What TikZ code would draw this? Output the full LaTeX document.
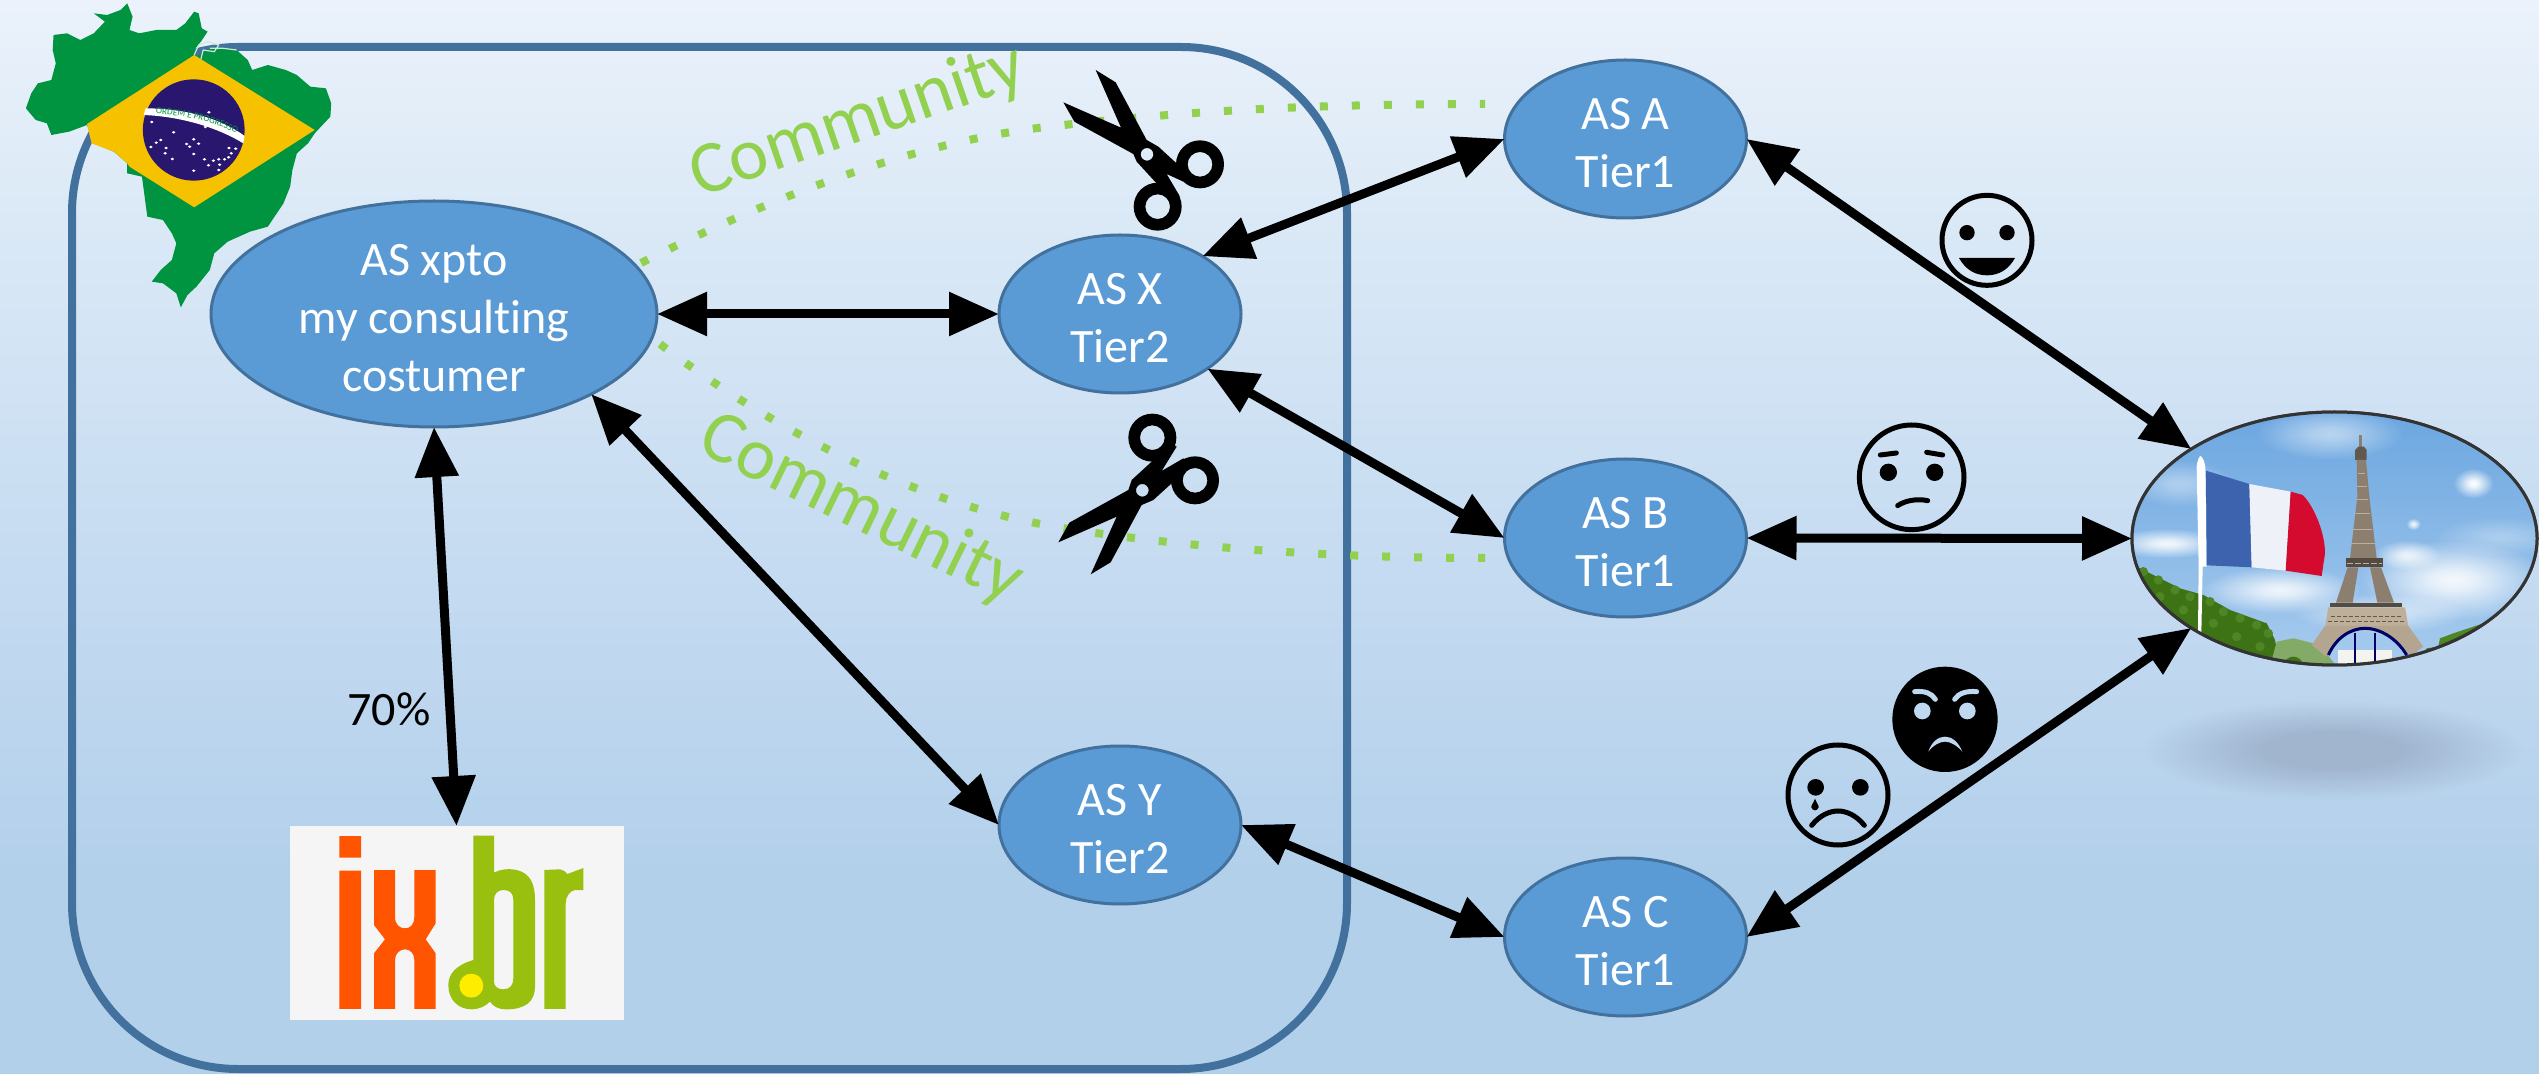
\documentclass[tikz,border=0pt]{standalone}
\usepackage{fontspec}
\setmainfont{Carlito}[Ligatures=NoCommon]
\usetikzlibrary{arrows.meta,shapes.geometric,fadings,decorations.text}
\definecolor{bg0}{HTML}{EBF2FB}
\definecolor{bg1}{HTML}{DEEBF7}
\definecolor{bg2}{HTML}{C5DBF1}
\definecolor{bg3}{HTML}{B3D0EB}
\definecolor{bgface}{HTML}{BFD7EF}
\definecolor{shadowc}{HTML}{A1B5CF}
\definecolor{nodefill}{HTML}{5B9BD5}
\definecolor{nodeline}{HTML}{41719C}
\definecolor{commgreen}{HTML}{92D050}
\definecolor{brgreen}{HTML}{009440}
\definecolor{bryellow}{HTML}{F6C200}
\definecolor{brblue}{HTML}{28166F}
\definecolor{ixorange}{HTML}{FF5500}
\definecolor{ixgreen}{HTML}{99BF0F}
\definecolor{ixyellow}{HTML}{FFED00}
\definecolor{twr}{HTML}{8C7F70}
\definecolor{twl}{HTML}{BDAF98}
\definecolor{skyt}{HTML}{6BA6E0}
\definecolor{skyb}{HTML}{A9CCEE}
\definecolor{treed}{HTML}{3D7315}
\definecolor{treel}{HTML}{4E8525}
\definecolor{flagb}{HTML}{3D63AE}
\definecolor{flagw}{HTML}{EEF1F8}
\definecolor{flagr}{HTML}{D40A2E}
\pgfdeclareverticalshading{bgshade}{100bp}{color(0bp)=(bg3);color(25bp)=(bg3);color(34.5bp)=(bg3);color(48.5bp)=(bg2);color(67bp)=(bg1);color(75bp)=(bg0);color(100bp)=(bg0)}
\pgfdeclareradialshading{softcs}{\pgfpoint{0bp}{0bp}}{color(0bp)=(transparent!0);color(6bp)=(transparent!15);color(25bp)=(transparent!100);color(50bp)=(transparent!100)}
\pgfdeclarefading{softc}{\pgfuseshading{softcs}}
\pgfdeclareradialshading{softss}{\pgfpoint{0bp}{0bp}}{color(0bp)=(transparent!0);color(9bp)=(transparent!0);color(25bp)=(transparent!100);color(50bp)=(transparent!100)}
\pgfdeclarefading{softshadow}{\pgfuseshading{softss}}
\newcommand{\firstlift}{\rule{0pt}{19.4pt}}
\tikzset{
  asnode/.style={ellipse,draw=nodeline,line width=1.5pt,fill=nodefill,text=white,align=center,
    inner sep=-10pt,outer sep=0pt,font=\fontsize{24}{29}\selectfont},
  small as/.style={asnode,minimum width=121pt,minimum height=79pt},
  link/.style={{Triangle[length=25pt,width=21pt]}-{Triangle[length=25pt,width=21pt]},line width=4.5pt,black},
  commline/.style={commgreen,line width=4pt,dash pattern=on 4pt off 12pt},
  commtext/.style={text=commgreen,font=\fontsize{37}{44}\selectfont,inner sep=0pt},
  face/.style={draw=black,line width=2.5pt},
  facestroke/.style={draw=black,line width=2.5pt,line cap=round},
}
\begin{document}
\begin{tikzpicture}[x=0.5pt,y=-0.5pt]
\useasboundingbox (0,0) rectangle (2539,1074);
\fill[shading=bgshade] (0,0) rectangle (2539,1074);

% container
\draw[nodeline,line width=4pt,rounded corners=83pt] (72,47) rectangle (1347,1069);

% Brazil
\begin{scope}[xscale=0.44643,yscale=0.33333]
\fill[brgreen] (285,10)--(297,50)--(290,90)--(312,100)--(350,90)--(395,90)--(415,70)--(435,35)--(445,40)--(452,85)--(465,95)--(450,125)--(435,150)--(440,170)--(470,145)--(500,145)--(530,150)--(555,180)--(565,210)--(600,195)--(640,210)--(665,225)--(695,260)--(730,265)--(742,310)--(740,350)--(705,400)--(690,430)--(665,460)--(655,510)--(650,560)--(635,610)--(600,680)--(560,695)--(510,725)--(480,760)--(470,810)--(440,860)--(420,885)--(405,922)--(395,880)--(365,850)--(340,845)--(360,810)--(385,780)--(395,730)--(385,700)--(365,660)--(330,650)--(325,600)--(318,530)--(285,520)--(285,490)--(255,455)--(210,430)--(195,375)--(155,395)--(115,405)--(105,370)--(80,360)--(58,325)--(70,280)--(85,250)--(115,240)--(125,190)--(118,150)--(120,105)--(150,100)--(180,120)--(210,100)--(235,65)--(210,40)--(240,45)--(270,30)--cycle;
\draw[white!80!brgreen,line width=0.6pt] (435,165)--(445,135)--(465,125)--(490,135)--(480,155)--(455,150)--(450,178) (470,145)--(500,145)--(530,150);
\fill[bryellow] (435,165)--(705,390)--(435,622)--(290,500)--(285,490)--(255,455)--(205,430)--(195,372)--cycle;
\fill[brblue] (434,390) ellipse [x radius=114,y radius=152];
\fill[white] (326,325) .. controls (420,325) and (500,360) .. (548,408) -- (545,430) .. controls (490,385) and (410,350) .. (322,345) -- cycle;
\foreach \sx/\sy in {468/337,340/366,460/381,389/397,360/420,350/428,434/418,418/432,445/431,425/440,372/444,338/441,370/460,386/477,434/462,458/478,478/482,490/478,503/478,512/472,518/460,528/446,513/444,492/494,467/496,490/510,434/512}{
  \fill[white] (\sx,\sy) circle (4);
}
\end{scope}
\path[decorate,decoration={text along path,text align=center,
  text={|\fontsize{4.6}{5}\selectfont\color{brgreen}|ORDEM E PROGRESSO}}]
  (147,113.5) .. controls (185,114) and (220,123) .. (244,138);

% nodes
\node[asnode,minimum width=223pt,minimum height=113pt] (xpto) at (434,314) {\firstlift AS xpto\\my consulting\\costumer};
\node[small as] (asx) at (1120,314) {\firstlift AS X\\Tier2};
\node[small as] (asy) at (1120,825) {\firstlift AS Y\\Tier2};
\node[small as] (asa) at (1625.5,139) {\firstlift AS A\\Tier1};
\node[small as] (asb) at (1625.5,538) {\firstlift AS B\\Tier1};
\node[small as] (asc) at (1625.5,937) {\firstlift AS C\\Tier1};
\node[rectangle,fill=black!4,minimum width=167pt,minimum height=97pt,inner sep=0pt,outer sep=0pt] (ixbr) at (456.5,923) {};
\node[ellipse,draw=black!80,line width=1.5pt,minimum width=202.5pt,minimum height=126.5pt,inner sep=0pt,outer sep=0pt] (france) at (2334.5,538.5) {};

% ix.br logo
\begin{scope}[shift={(260,800)},scale=0.33333]
\fill[ixorange] (238,108) rectangle (303,173) (238,212) rectangle (303,627);
\fill[ixorange] (342,210)--(405,210)--(405,350) .. controls (405,375) and (420,385) .. (435,385) .. controls (450,385) and (463,375) .. (463,350)--(463,210)--(527,210)--(527,370)--(497,418)--(527,460)--(527,627)--(463,627)--(463,480) .. controls (463,460) and (450,448) .. (435,448) .. controls (420,448) and (405,460) .. (405,480)--(405,627)--(342,627)--(342,460)--(375,418)--(342,375)--cycle;
\fill[ixgreen,even odd rule] (640,107)--(702,107)--(702,218) .. controls (720,208) and (745,205) .. (770,210) .. controls (810,220) and (825,250) .. (825,300)--(825,560) .. controls (825,605) and (795,628) .. (740,628) .. controls (715,628) and (700,620) .. (690,605) .. controls (675,620) and (655,628) .. (635,628) .. controls (595,628) and (565,600) .. (565,555) .. controls (565,520) and (590,495) .. (640,480)--cycle
(702,300) .. controls (702,280) and (715,270) .. (730,270) .. controls (750,270) and (760,280) .. (760,300)--(760,535) .. controls (760,555) and (750,568) .. (730,568) .. controls (715,568) and (702,560) .. (702,545)--cycle;
\fill[ixyellow] (634,557) circle (36);
\fill[ixgreen] (853,210)--(900,208) .. controls (910,210) and (918,215) .. (922,222)--(970,204)--(970,270)--(945,270) .. controls (930,272) and (917,290) .. (917,310)--(917,627)--(853,627)--cycle;
\end{scope}

% France picture
\begin{scope}
\clip (france.center) ellipse [x radius=202.5,y radius=126.5];
\shade[top color=skyt,bottom color=skyb] (2130,410) rectangle (2540,670);
\begin{scope}[shift={(2080,380)},scale=0.33333]
\foreach \cx/\cy/\crx/\cry/\op in {750/160/220/80/.5, 300/310/160/70/.4, 260/490/170/45/.9, 1180/310/60/45/1, 1120/600/280/120/.9, 600/630/240/70/.85, 980/525/100/45/.8, 1000/432/22/18/.9, 1260/470/200/60/.3, 900/700/260/60/.6}{
  \fill[white,opacity=\op,path fading=softc] (\cx,\cy) ellipse [x radius=\crx,y radius=\cry];
}
% trees
\fill[treed] (150,550)--(230,590)--(300,625)--(370,645)--(450,690)--(560,730)--(585,780)--(600,860)--(150,860)--cycle;
\foreach \tx/\ty in {190/575,235/600,285/630,330/650,390/665,430/695,480/715,530/735,565/760,240/650,310/690,400/730,470/770,540/800}{
  \fill[treel] (\tx,\ty) circle (14);
}
\fill[treel!70!white] (570,860)--(590,785)--(640,775)--(720,795)--(770,860)--cycle;
\fill[treed] (640,860) circle (30);
\fill[treel] (1000,860)--(1040,805)--(1075,800)--(1080,775)--(1120,760)--(1210,730)--(1370,730)--(1370,860)--cycle;
% tower
\fill[twr] (838,165) rectangle (845,205);
\fill[twr!70!black] (825,210)--(835,200)--(852,200)--(860,210)--(860,240)--(825,240)--cycle;
\fill[twr] (830,240)--(858,240)--(868,350)--(890,535)--(810,535)--(832,350)--cycle;
\draw[twl,line width=0.5pt] (835,280)--(855,280) (832,320)--(860,320) (830,360)--(864,360) (826,400)--(870,400) (820,450)--(876,450) (815,490)--(884,490);
\fill[twr!60!black] (797,535) rectangle (908,562);
\draw[twl,line width=0.6pt,dash pattern=on 3pt off 1pt] (800,550)--(905,550);
\fill[twr] (803,562)--(835,562)--(818,668)--(768,668)--cycle;
\fill[twr] (870,562)--(903,562)--(942,668)--(892,668)--cycle;
\fill[twr!60!black] (750,668) rectangle (965,682);
\fill[twl] (745,682)--(975,682)--(985,740)--(735,740)--cycle;
\draw[twr!70!black,line width=0.8pt,dash pattern=on 2pt off 1pt] (752,710)--(968,710) (745,725)--(975,725);
\fill[white!85!twl] (775,810) rectangle (935,860);
\fill[twl!80!twr] (735,738)--(985,738)--(1030,800)--(990,830) .. controls (960,770) and (890,750) .. (855,750) .. controls (810,750) and (760,780) .. (738,830)--(695,795)--cycle;
\draw[blue!40!black,line width=1.5pt] (745,825) .. controls (770,770) and (815,745) .. (855,745) .. controls (900,745) and (950,775) .. (980,825);
\draw[blue!40!black,line width=0.8pt] (825,760)--(825,850) (885,760)--(885,850);
% flag
\fill[white] (350,260) .. controls (352,240) and (358,228) .. (362,228) .. controls (368,232) and (374,245) .. (376,262)--(380,560)--(368,560)--(364,760)--(354,760)--(356,560)--cycle;
\fill[flagb] (378,272)--(508,312)--(515,562)--(380,556)--cycle;
\fill[flagw] (508,312)--(632,335)--(617,572)--(515,562)--cycle;
\fill[flagr] (632,335)--(668,345) .. controls (695,370) and (735,450) .. (735,520)--(725,588)--(617,572)--cycle;
\end{scope}
\end{scope}
\draw[black!80,line width=1.5pt] (france.center) ellipse [x radius=202.5,y radius=126.5];

% shadow
\fill[shadowc,path fading=softshadow] (2333,750) ellipse [x radius=190,y radius=50];

% dotted community lines
\coordinate (c1a) at (641,263);
\coordinate (c1b) at (1064,125);
\coordinate (c1c) at (1485,104);
\coordinate (c2a) at (660,344);
\coordinate (c2b) at (1063,528);
\coordinate (c2c) at (1485,558);
\draw[commline] (c1a) .. controls (790,188) and (930,138) .. (c1b) .. controls (1180,112) and (1300,104) .. (c1c);
\draw[commline] (c2a) .. controls (780,435) and (920,505) .. (c2b) .. controls (1200,550) and (1350,558) .. (c2c);
\node[commtext,rotate=19] (comm1) at (858,122) {Community};
\node[commtext,rotate=-26] (comm2) at (861,510) {Community};

% scissors top
\begin{scope}[shift={(1020,50)},scale=0.33333]
\fill[black,even odd rule] (227,60)--(287,97)--(380,270)--(415,290)--(475,345)--(490,395)--(440,372)--(480,440)--(430,420)--(405,395)--(350,335)--(340,312)--(163,215)--(130,157)--(303,233)--cycle (381,313) circle (19);
\fill[black,even odd rule] (540,343) circle (72) (540,343) circle (37);
\fill[black,even odd rule] (413,470) circle (72) (413,470) circle (37);
\end{scope}
% scissors bottom
\begin{scope}[shift={(1040,400)},scale=0.33333]
\fill[black,even odd rule] (55,427)--(88,368)--(265,270)--(275,240)--(335,185)--(395,130)--(410,140)--(365,213)--(430,175)--(450,200)--(395,250)--(340,300)--(305,315)--(212,487)--(152,523)--(230,350)--cycle (307,271) circle (19);
\fill[black,even odd rule] (337,113) circle (72) (337,113) circle (37);
\fill[black,even odd rule] (465,241) circle (72) (465,241) circle (37);
\end{scope}

% links
\draw[link] (xpto.east) -- (asx.west);
\draw[link] (asx.35) -- (asa.west);
\draw[link] (asx.-32) -- (asb.west);
\draw[link] (xpto.-27) -- (asy.west);
\draw[link] (asy.east) -- (asc.west);
\draw[link] (xpto.south) -- (ixbr.north);
\draw[link] (asa.east) -- (france.148);
\draw[link] (asb.east) -- (france.west);
\draw[link] (asc.east) -- (france.212);

\node[font=\fontsize{24}{29}\selectfont,inner sep=0pt,text=black] (pct) at (389,709) {70\%};

% happy
\begin{scope}[shift={(1760,170)},scale=0.33333]
\draw[face] (681,211) circle (135);
\fill (621,188) circle (23) (741,188) circle (23);
\fill (597,264)--(765,264) .. controls (745,300) and (715,316) .. (681,316) .. controls (647,316) and (617,300) .. (597,264)--cycle;
% worried
\draw[face] (455,922) circle (157);
\fill (385,907) circle (26) (524,907) circle (26);
\draw[facestroke] (361,855)--(409,849) (500,847)--(548,855);
\draw[facestroke] (413,1007) .. controls (435,992) and (470,985) .. (503,992);
\end{scope}
% crying and angry
\begin{scope}[shift={(1760,640)},scale=0.33333]
\fill (555,238) circle (158);
\fill[bgface] (487,213) circle (25) (622,213) circle (25);
\draw[bgface,line width=2.5pt,line cap=round] (464,155) .. controls (495,152) and (515,160) .. (526,178) (650,155) .. controls (620,152) and (595,160) .. (584,178);
\fill[bgface] (505,335) .. controls (515,305) and (535,290) .. (555,290) .. controls (575,290) and (595,305) .. (607,335) .. controls (590,315) and (570,305) .. (555,305) .. controls (540,305) and (520,315) .. (505,335)--cycle;
\draw[face] (234,465) circle (150);
\fill (167,442) circle (25) (301,442) circle (25);
\fill (165,476) .. controls (170,490) and (178,498) .. (176,502) .. controls (172,514) and (158,514) .. (154,502) .. controls (152,498) and (160,490) .. (165,476)--cycle;
\draw[facestroke] (155,556) .. controls (180,525) and (210,513) .. (234,513) .. controls (258,513) and (288,525) .. (313,556);
\end{scope}
\end{tikzpicture}
\end{document}
